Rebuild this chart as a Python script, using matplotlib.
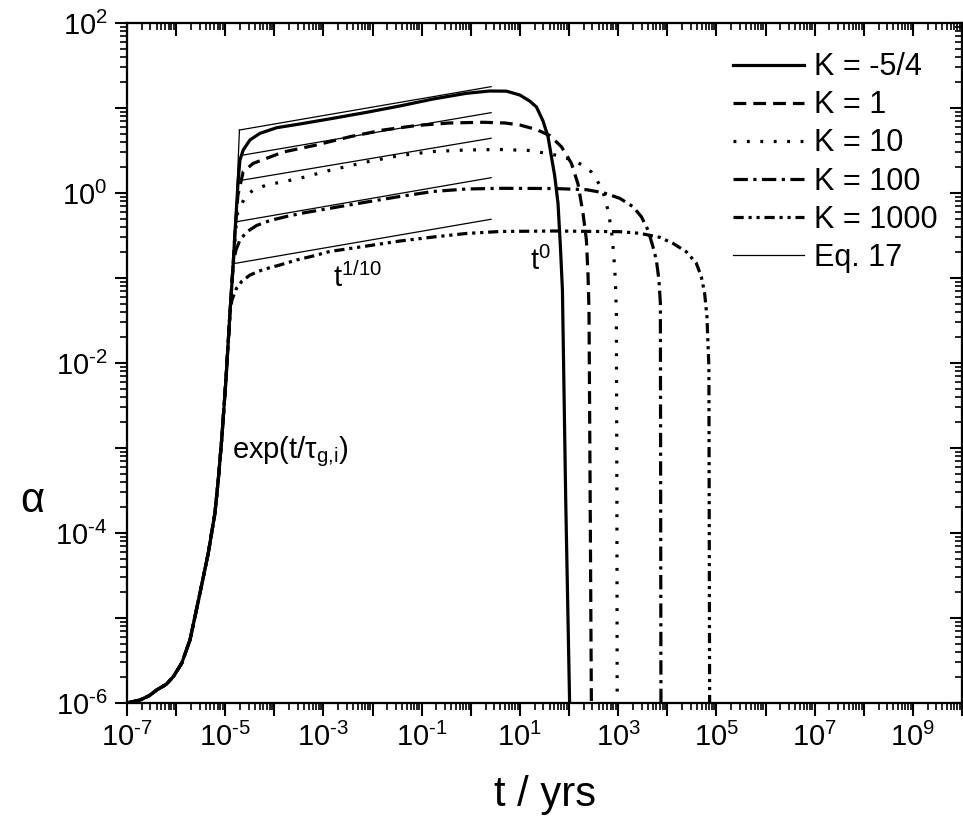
import numpy as np
import matplotlib
matplotlib.use("Agg")
import matplotlib.pyplot as plt
from matplotlib.ticker import FixedLocator, LogLocator, FuncFormatter, NullFormatter

plt.rcParams['font.family'] = ['Liberation Sans', 'DejaVu Sans']
plt.rcParams['mathtext.fontset'] = 'custom'
plt.rcParams['mathtext.rm'] = 'Liberation Sans'
plt.rcParams['mathtext.it'] = 'Liberation Sans'

# all values as log10(t / yrs) and log10(alpha)
# common exponential rise
exp_log_t = [-7.0, -6.735, -6.55, -6.396, -6.2, -6.058, -5.887, -5.718, -5.515, -5.346, -5.210, -5.142, -5.073, -4.986, -4.904]
exp_log_a = [-6.0, -5.965, -5.915, -5.847, -5.78, -5.691, -5.533, -5.259, -4.709, -4.239, -3.768, -3.376, -2.906, -2.2, -1.415]

# K = -5/4
k1_log_t = [-4.837, -4.803, -4.736, -4.701, -4.634, -4.497, -4.294, -3.954, -3.480, -2.803, -2.123, -1.446,
            -0.768, -0.089, 0.386, 0.725, 0.996, 1.199, 1.336, 1.470, 1.572, 1.641, 1.708, 1.775, 1.824,
            1.865, 1.932, 2.013]
k1_log_a = [-0.827, -0.474, 0.153, 0.388, 0.506, 0.624, 0.702, 0.768, 0.812, 0.879, 0.949, 1.024,
            1.106, 1.173, 1.2, 1.198, 1.153, 1.082, 1.012, 0.847, 0.662, 0.427, 0.2, -0.121, -0.632,
            -1.141, -3.612, -6.05]

# K = 1
k2_log_t = [-4.837, -4.803, -4.742, -4.634, -4.430, -4.158, -3.820, -3.140, -2.463, -1.785, -1.106, -0.428,
            0.249, 0.691, 0.996, 1.336, 1.606, 1.844, 2.048, 2.182, 2.284, 2.353, 2.386, 2.406, 2.430, 2.455]
k2_log_a = [-0.827, -0.474, -0.024, 0.251, 0.349, 0.408, 0.482, 0.565, 0.662, 0.741, 0.794, 0.824,
            0.832, 0.824, 0.8, 0.747, 0.676, 0.545, 0.349, 0.106, -0.239, -0.553, -0.965, -1.376, -3.612, -6.05]

# K = 10
k3_log_t = [-4.837, -4.762, -4.599, -4.430, -4.158, -3.820, -3.480, -2.904, -2.123, -1.446, -0.768, -0.089,
            0.589, 1.199, 1.673, 2.080, 2.284, 2.455, 2.556, 2.691, 2.792, 2.862, 2.908, 2.943, 2.963, 2.974, 2.980]
k3_log_a = [-0.827, -0.259, -0.047, 0.035, 0.094, 0.133, 0.173, 0.262, 0.365, 0.441, 0.488, 0.506,
            0.512, 0.5, 0.453, 0.388, 0.324, 0.247, 0.165, 0.015, -0.2, -0.435, -0.709, -1.024, -1.415, -3.612, -6.05]

# K = 100
k4_log_t = [-4.837, -4.782, -4.701, -4.565, -4.361, -4.091, -3.751, -3.413, -2.870, -2.123, -1.446, -0.768,
            -0.089, 0.589, 1.673, 2.353, 2.691, 3.031, 3.301, 3.472, 3.606, 3.708, 3.777, 3.830, 3.859, 3.865, 3.871]
k4_log_a = [-0.827, -0.671, -0.553, -0.459, -0.382, -0.324, -0.276, -0.235, -0.180, -0.106, -0.041, 0.018,
            0.047, 0.055, 0.053, 0.039, 0.004, -0.062, -0.161, -0.279, -0.435, -0.632, -0.788, -1.024, -1.298, -3.612, -6.05]

# K = 1000
k5_log_t = [-4.864, -4.768, -4.666, -4.497, -4.227, -3.887, -3.547, -3.210, -2.870, -2.123, -1.446, -0.768,
            -0.089, 0.589, 1.673, 3.031, 3.437, 3.844, 4.115, 4.387, 4.591, 4.693, 4.760, 4.807, 4.847, 4.862]
k5_log_a = [-1.259, -1.118, -1.041, -0.965, -0.900, -0.847, -0.788, -0.741, -0.688, -0.624, -0.565, -0.518,
            -0.476, -0.453, -0.447, -0.455, -0.474, -0.521, -0.592, -0.691, -0.827, -0.985, -1.180, -1.455, -2.044, -6.05]

# Eq. 17 power laws (t^1/10), start and end points
eq17_log_t0 = [-4.711, -4.630, -4.697, -4.768, -4.789]
eq17_log_a0 = [0.741, 0.447, 0.147, -0.338, -0.827]
eq17_log_t1 = [0.413, 0.413, 0.413, 0.413, 0.413]
eq17_log_a1 = [1.251, 0.945, 0.644, 0.180, -0.309]
# steep (exponential) piece of the top Eq. 17 curve
eq17_exp_log_t = [-4.797, -4.711]
eq17_exp_log_a = [-0.459, 0.741]

labels = ['K = -5/4', 'K = 1', 'K = 10', 'K = 100', 'K = 1000']
curves_t = [k1_log_t, k2_log_t, k3_log_t, k4_log_t, k5_log_t]
curves_a = [k1_log_a, k2_log_a, k3_log_a, k4_log_a, k5_log_a]
dashes = [None, (4, 2.2), (0.9, 3.3), (4.5, 1.7, 1, 1.7), (3.2, 1.5, 1, 1.5, 1, 1.5)]

fig = plt.figure(figsize=(9.63, 8.30), dpi=100)
ax = fig.add_axes([127 / 963, 127 / 830, 835 / 963, 680 / 830])

lw = 2.3
for lt, la, lab, d in zip(curves_t, curves_a, labels, dashes):
    t = 10.0 ** np.array(exp_log_t + lt)
    a = 10.0 ** np.array(exp_log_a + la)
    line, = ax.plot(t, a, color='black', lw=lw, label=lab)
    if d is not None:
        line.set_dashes(d)

for i in range(len(eq17_log_t0)):
    lab = 'Eq. 17' if i == 0 else None
    ax.plot(10.0 ** np.array([eq17_log_t0[i], eq17_log_t1[i]]),
            10.0 ** np.array([eq17_log_a0[i], eq17_log_a1[i]]), color='black', lw=0.9, label=lab)
ax.plot(10.0 ** np.array(eq17_exp_log_t), 10.0 ** np.array(eq17_exp_log_a), color='black', lw=0.9)

ax.set_xscale('log')
ax.set_yscale('log')
ax.set_xlim(1e-7, 1e10)
ax.set_ylim(1e-6, 1e2)


def pow_label(e):
    if e < 0:
        return r'$\mathregular{10^{\text{-}%d}}$' % (-e)
    return r'$\mathregular{10^{%d}}$' % e


def xfmt(v, pos):
    e = int(round(np.log10(v)))
    return '' if e % 2 == 0 else pow_label(e)


def yfmt(v, pos):
    e = int(round(np.log10(v)))
    return '' if e % 2 != 0 else pow_label(e)


ax.xaxis.set_major_locator(FixedLocator(10.0 ** np.arange(-7, 11)))
ax.yaxis.set_major_locator(FixedLocator(10.0 ** np.arange(-6, 3)))
ax.xaxis.set_minor_locator(LogLocator(base=10, subs=np.arange(2, 10), numticks=100))
ax.yaxis.set_minor_locator(LogLocator(base=10, subs=np.arange(2, 10), numticks=100))
ax.xaxis.set_major_formatter(FuncFormatter(xfmt))
ax.yaxis.set_major_formatter(FuncFormatter(yfmt))
ax.xaxis.set_minor_formatter(NullFormatter())
ax.yaxis.set_minor_formatter(NullFormatter())
ax.tick_params(which='major', direction='out', length=9, width=1.5, labelsize=21, pad=5)
ax.tick_params(which='minor', direction='out', length=5, width=1.2)
for s in ax.spines.values():
    s.set_linewidth(1.5)

# top and right axes with inward ticks
axt = ax.twiny()
axt.set_xscale('log')
axt.set_xlim(ax.get_xlim())
axt.xaxis.set_major_locator(FixedLocator(10.0 ** np.arange(-7, 11)))
axt.xaxis.set_minor_locator(LogLocator(base=10, subs=np.arange(2, 10), numticks=100))
axt.tick_params(which='major', direction='in', length=9, width=1.5, labeltop=False)
axt.tick_params(which='minor', direction='in', length=5, width=1.2)
axr = ax.twinx()
axr.set_yscale('log')
axr.set_ylim(ax.get_ylim())
axr.yaxis.set_major_locator(FixedLocator(10.0 ** np.arange(-6, 3)))
axr.yaxis.set_minor_locator(LogLocator(base=10, subs=np.arange(2, 10), numticks=100))
axr.tick_params(which='major', direction='in', length=9, width=1.5, labelright=False)
axr.tick_params(which='minor', direction='in', length=5, width=1.2)
for a2 in (axt, axr):
    for s in a2.spines.values():
        s.set_linewidth(1.5)

ax.set_xlabel('t / yrs', fontsize=30, labelpad=17)
ax.set_ylabel('α', fontsize=30, rotation=0, va='center', ha='center')
ax.yaxis.set_label_coords(-0.113, 0.297)

ax.text(10 ** -2.81, 10 ** -1.106, r'$\mathregular{t^{1/10}}$', fontsize=21, va='baseline')
ax.text(10 ** 1.2, 10 ** -0.906, r'$\mathregular{t^{0}}$', fontsize=21, va='baseline')
ax.text(10 ** -4.87, 10 ** -3.118, r'$\mathregular{exp(t/τ_{g{,}i})}$', fontsize=21, va='baseline')

leg = ax.legend(loc='upper right', bbox_to_anchor=(0.986, 0.975), frameon=False, fontsize=22,
                handlelength=2.3, handletextpad=0.35, labelspacing=0.265, borderaxespad=0)

fig.savefig('out.png', dpi=100)
